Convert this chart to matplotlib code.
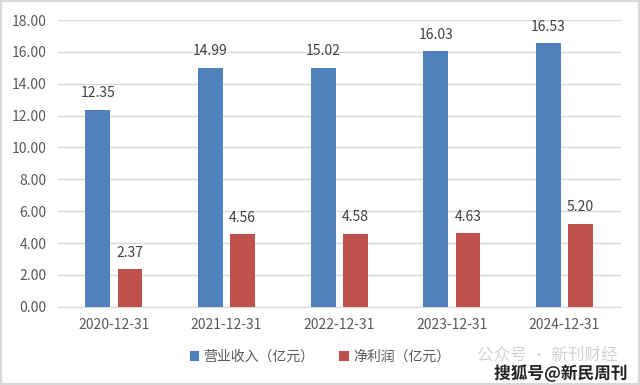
import numpy as np
import matplotlib.pyplot as plt
import matplotlib.patheffects as pe

plt.rcParams['font.family'] = ['Noto Sans CJK SC', 'DejaVu Sans']

dates = ['2020-12-31', '2021-12-31', '2022-12-31', '2023-12-31', '2024-12-31']
revenue = [12.35, 14.99, 15.02, 16.03, 16.53]
profit = [2.37, 4.56, 4.58, 4.63, 5.20]

blue = '#4F81BD'
red = '#C0504D'
txt = '#595959'

fig = plt.figure(figsize=(6.4, 3.85), dpi=100)
ax = fig.add_axes([0.09, 0.203, 0.88, 0.745])

x = np.arange(len(dates))
w = 0.22
gap = 0.065
b1 = ax.bar(x - (w + gap) / 2, revenue, w, color=blue, label='营业收入（亿元）', zorder=3)
b2 = ax.bar(x + (w + gap) / 2, profit, w, color=red, label='净利润（亿元）', zorder=3)

for bars, vals in ((b1, revenue), (b2, profit)):
    for r, v in zip(bars, vals):
        ax.text(r.get_x() + r.get_width() / 2, v + 0.6, '%.2f' % v,
                ha='center', va='bottom', fontsize=10, color='#404040')

ax.set_ylim(0, 18)
ax.set_xlim(-0.5, len(dates) - 0.5)
ax.set_yticks(np.arange(0, 19, 2))
ax.set_yticklabels(['%.2f' % t for t in np.arange(0, 19, 2)])
ax.set_xticks(x)
ax.set_xticklabels(dates)
ax.tick_params(axis='both', length=0, labelsize=10, labelcolor=txt)
ax.tick_params(axis='x', pad=8)
ax.tick_params(axis='y', pad=8)
ax.grid(axis='y', color='#D9D9D9', linewidth=1, zorder=0)
for s in ['top', 'right', 'left']:
    ax.spines[s].set_visible(False)
ax.spines['bottom'].set_color('#D9D9D9')

fig.legend(handles=[b1, b2], loc='center', bbox_to_anchor=(0.5, 0.073), ncol=2,
           frameon=False, fontsize=10, labelcolor=txt, handlelength=0.7,
           handleheight=0.7, handletextpad=0.3, columnspacing=1.8)

# border
fig.patches.append(plt.Rectangle((0.002, 0.003), 0.996, 0.994, transform=fig.transFigure,
                                 fill=False, edgecolor='#D9D9D9', linewidth=1.5))

# watermarks
fig.text(0.745, 0.078, '公众号 · 新刊财经', fontsize=12, color='#C8C8C8', alpha=0.8,
         ha='left', va='center')
fig.text(0.98, 0.03, '搜狐号@新民周刊', fontsize=12, color='#222222', ha='right',
         va='center', fontweight='bold',
         path_effects=[pe.withStroke(linewidth=2.5, foreground='white')])

fig.savefig('out.png', dpi=100)
